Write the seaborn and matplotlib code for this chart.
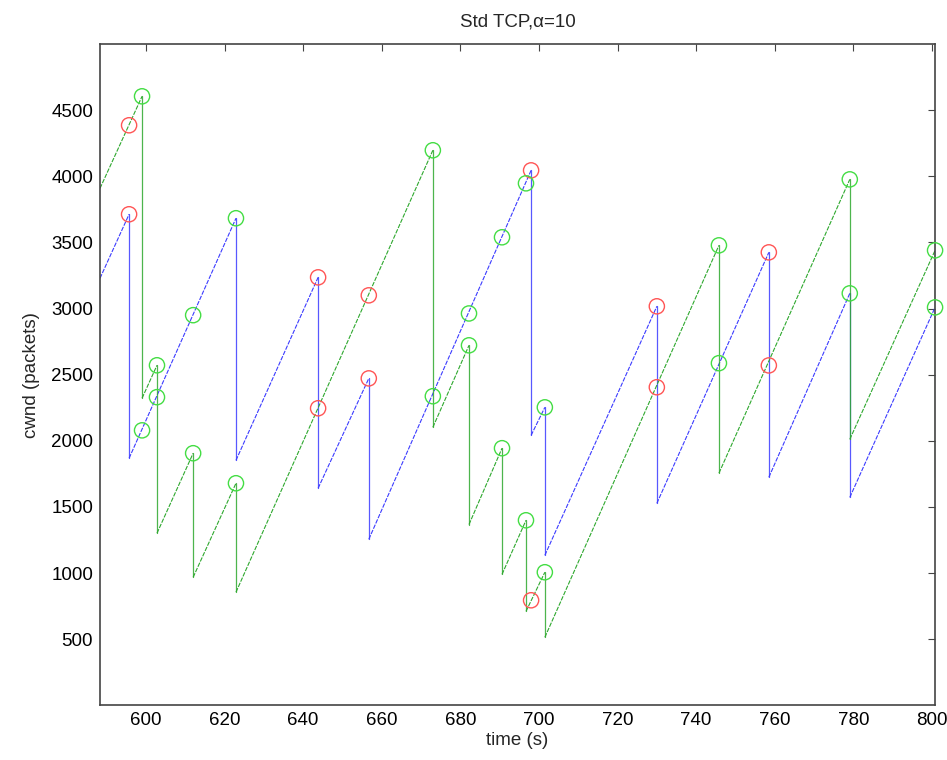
import pandas as pd
import matplotlib
matplotlib.use("Agg")
import matplotlib.pyplot as plt
import seaborn as sns

# Flow 1 (blue) sawtooth vertices: time (s), cwnd (packets)
blue_time = [588.3, 595.7, 595.7, 622.9, 622.9, 643.8, 643.8, 656.7, 656.7,
             698.0, 698.0, 701.5, 701.5, 730.0, 730.0, 758.5, 758.5,
             779.1, 779.1, 800.8]
blue_cwnd = [3229, 3713, 1868, 3683, 1852, 3236, 1641, 2472, 1255,
             4045, 2041, 2253, 1134, 3017, 1527, 3425, 1724,
             3115, 1572, 3009]

# Flow 2 (green) sawtooth vertices
green_time = [588.3, 599.0, 599.0, 602.8, 602.8, 612.0, 612.0, 622.9, 622.9,
              673.0, 673.0, 682.2, 682.2, 690.6, 690.6, 696.7, 696.7,
              701.5, 701.5, 745.8, 745.8, 779.1, 779.1, 800.8, 800.8]
green_cwnd = [3909, 4605, 2322, 2571, 1301, 1906, 968, 1679, 855,
              4197, 2102, 2722, 1367, 1944, 990, 1399, 710,
              1006, 514, 3478, 1755, 3977, 2011, 3440, 1724]

# Loss events of flow 1 (red circles), cwnd of both flows at that moment
red_time = [595.7, 643.8, 656.7, 698.0, 730.0, 758.5]
red_on_blue = [3713, 3236, 2472, 4045, 3017, 3425]
red_on_green = [4386, 2246, 3100, 794, 2405, 2570]

# Loss events of flow 2 (green circles)
grn_time = [599.0, 602.8, 612.0, 622.9, 673.0, 682.2, 690.6, 696.7,
            701.5, 745.8, 779.1, 800.8]
grn_on_green = [4605, 2571, 1906, 1679, 4197, 2722, 1944, 1399,
                1006, 3478, 3977, 3440]
grn_on_blue = [2079, 2330, 2950, 3683, 2337, 2963, 3539, 3947,
               2253, 2587, 3115, 3009]


def split_segments(t, w):
    # split a sawtooth into rising parts and vertical drops
    rise, drop = [], []
    seg = 0
    for i in range(len(t) - 1):
        rows = drop if t[i] == t[i + 1] else rise
        rows.append((seg, t[i], w[i]))
        rows.append((seg, t[i + 1], w[i + 1]))
        seg += 1
    cols = ['seg', 'time', 'cwnd']
    return pd.DataFrame(rise, columns=cols), pd.DataFrame(drop, columns=cols)


sns.set_style("white")
plt.rcParams['font.family'] = ['Liberation Sans', 'DejaVu Sans']

fig = plt.figure(figsize=(9.47, 7.6), dpi=100)
ax = fig.add_axes([0.1056, 0.072, 0.8818, 0.870])

dash = (0, (4, 1.2))
for t, w, col in [(blue_time, blue_cwnd, '#3b3bff'),
                  (green_time, green_cwnd, '#2ea82e')]:
    rise, drop = split_segments(t, w)
    sns.lineplot(data=rise, x='time', y='cwnd', units='seg', estimator=None,
                 sort=False, color=col, linewidth=0.8, linestyle=dash, ax=ax)
    sns.lineplot(data=drop, x='time', y='cwnd', units='seg', estimator=None,
                 sort=False, color=col, linewidth=0.9, alpha=0.85, ax=ax)

red_df = pd.DataFrame({'time': red_time + red_time,
                       'cwnd': red_on_blue + red_on_green})
grn_df = pd.DataFrame({'time': grn_time + grn_time,
                       'cwnd': grn_on_blue + grn_on_green})
sns.scatterplot(data=red_df, x='time', y='cwnd', marker='o', s=120,
                facecolor='none', edgecolor='#ff5555', linewidth=1.0,
                clip_on=False, zorder=3, ax=ax)
sns.scatterplot(data=grn_df, x='time', y='cwnd', marker='o', s=120,
                facecolor='none', edgecolor='#44dd44', linewidth=1.0,
                clip_on=False, zorder=3, ax=ax)

ax.set_xlim(588.3, 800.8)
ax.set_ylim(0, 5000)
ax.set_xticks(range(600, 801, 20))
ax.set_yticks(range(500, 4501, 500))
ax.tick_params(direction='in', length=5, width=0.8, labelsize=13.5,
               top=True, right=True, colors='#444444', labelcolor='black', pad=5)
for sp in ax.spines.values():
    sp.set_visible(True)
    sp.set_color('#444444')
    sp.set_linewidth(1.2)

ax.set_title('Std TCP,α=10', fontsize=13.5, pad=13)
ax.set_xlabel('time (s)', fontsize=13.5, labelpad=2)
ax.set_ylabel('cwnd (packets)', fontsize=13.5, labelpad=8)

fig.savefig('out.png', dpi=100)
